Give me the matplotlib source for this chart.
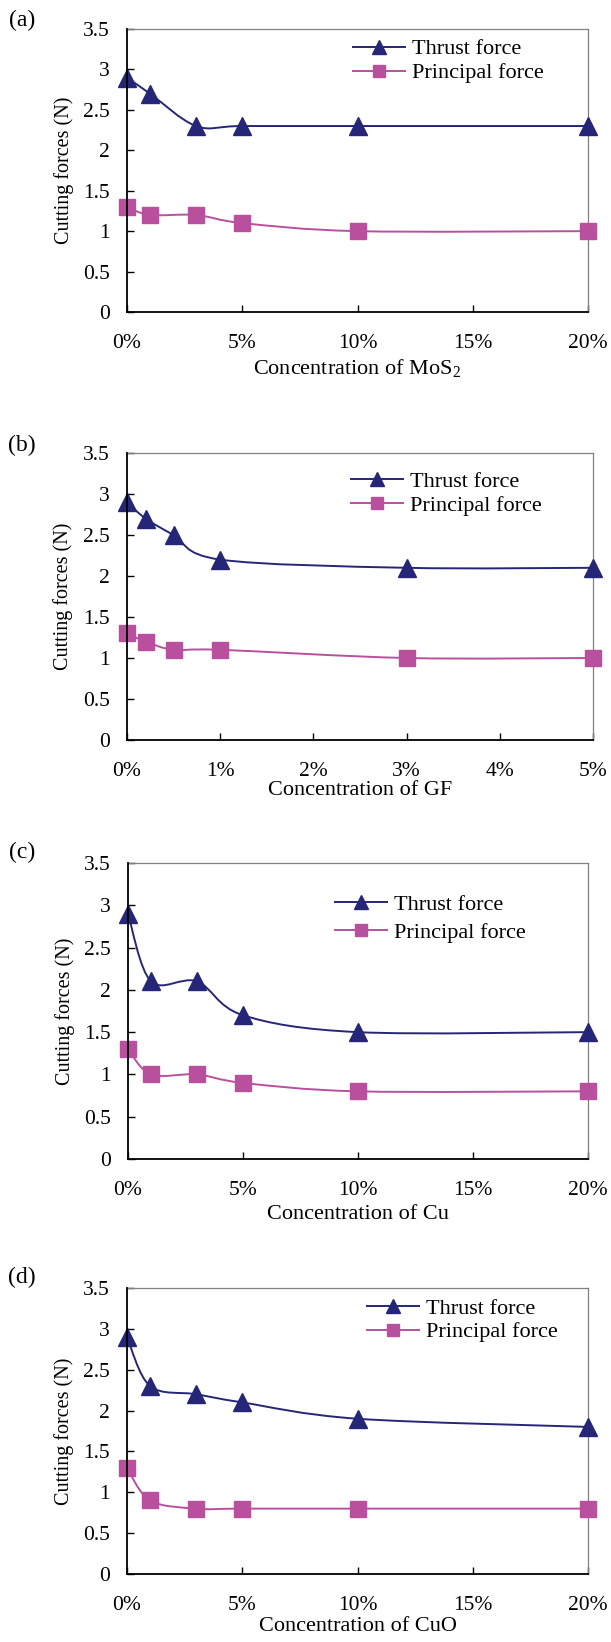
import numpy as np
import matplotlib
matplotlib.use('Agg')
import matplotlib.pyplot as plt
from matplotlib.path import Path
from matplotlib.patches import PathPatch
from matplotlib.lines import Line2D

plt.rcParams['font.family'] = 'Liberation Serif'
plt.rcParams['mathtext.fontset'] = 'custom'
plt.rcParams['mathtext.rm'] = 'Liberation Serif'
plt.rcParams['mathtext.it'] = 'Liberation Serif:italic'

# ---- data ----
conc_mos2 = [0, 1, 3, 5, 10, 20]
thrust_mos2 = [2.9, 2.7, 2.3, 2.3, 2.3, 2.3]
principal_mos2 = [1.3, 1.2, 1.2, 1.1, 1.0, 1.0]

conc_gf = [0, 0.2, 0.5, 1, 3, 5]
thrust_gf = [2.9, 2.7, 2.5, 2.2, 2.1, 2.1]
principal_gf = [1.3, 1.2, 1.1, 1.1, 1.0, 1.0]

conc_cu = [0, 1, 3, 5, 10, 20]
thrust_cu = [2.9, 2.1, 2.1, 1.7, 1.5, 1.5]
principal_cu = [1.3, 1.0, 1.0, 0.9, 0.8, 0.8]

conc_cuo = [0, 1, 3, 5, 10, 20]
thrust_cuo = [2.9, 2.3, 2.2, 2.1, 1.9, 1.8]
principal_cuo = [1.3, 0.9, 0.8, 0.8, 0.8, 0.8]

xticks_20 = [0, 5, 10, 15, 20]
xticks_5 = [0, 1, 2, 3, 4, 5]
yticks = [0, 0.5, 1, 1.5, 2, 2.5, 3, 3.5]

series_names = ['Thrust force', 'Principal force']
thrust_color = '#262678'
principal_color = '#B8509E'

W, H = 611, 1642


def smooth_path(x, y):
    # excel-like smoothed line: catmull-rom as cubic bezier
    pts = np.column_stack([x, y]).astype(float)
    n = len(pts)
    verts = [pts[0]]
    codes = [Path.MOVETO]
    for i in range(n - 1):
        p0 = pts[max(i - 1, 0)]
        p1 = pts[i]
        p2 = pts[i + 1]
        p3 = pts[min(i + 2, n - 1)]
        verts += [p1 + (p2 - p0) / 6, p2 - (p3 - p1) / 6, p2]
        codes += [Path.CURVE4] * 3
    return Path(verts, codes)


def px_axes(l, r, t, b):
    return [l / W, 1 - b / H, (r - l) / W, (b - t) / H]


panels = [
    dict(tag='(a)', tag_y=20, box=(127, 588, 29, 312), x=conc_mos2, t=thrust_mos2,
         p=principal_mos2, xticks=xticks_20, xmax=20, xlabel='Concentration of MoS$_2$',
         xl_y=-0.16, leg=(0.49, 0.965), lsp=0.15),
    dict(tag='(b)', tag_y=445, box=(127, 593, 453, 740), x=conc_gf, t=thrust_gf,
         p=principal_gf, xticks=xticks_5, xmax=5, xlabel='Concentration of GF',
         xl_y=-0.142, leg=(0.481, 0.935), lsp=0.15),
    dict(tag='(c)', tag_y=852, box=(128, 588, 863, 1159), x=conc_cu, t=thrust_cu,
         p=principal_cu, xticks=xticks_20, xmax=20, xlabel='Concentration of Cu',
         xl_y=-0.155, leg=(0.45, 0.895), lsp=0.33),
    dict(tag='(d)', tag_y=1277, box=(127, 588, 1288, 1574), x=conc_cuo, t=thrust_cuo,
         p=principal_cuo, xticks=xticks_20, xmax=20, xlabel='Concentration of CuO',
         xl_y=-0.152, leg=(0.52, 0.965), lsp=0.15),
]

fig = plt.figure(figsize=(W / 100, H / 100), dpi=100)

for pn in panels:
    ax = fig.add_axes(px_axes(*pn['box']))
    ax.set_xlim(0, pn['xmax'])
    ax.set_ylim(0, 3.5)

    for ys, col, mk, ms in [(pn['t'], thrust_color, '^', 13.5),
                            (pn['p'], principal_color, 's', 12)]:
        ax.add_patch(PathPatch(smooth_path(pn['x'], ys), facecolor='none',
                               edgecolor=col, lw=1.4, zorder=2, clip_on=False))
        ax.plot(pn['x'], ys, ls='none', marker=mk, ms=ms, color=col,
                zorder=3, clip_on=False)

    ax.set_xticks(pn['xticks'])
    ax.set_xticklabels([f'{v}%' for v in pn['xticks']])
    ax.set_yticks(yticks)
    ax.set_yticklabels([f'{v:g}' for v in yticks])
    ax.tick_params(direction='in', length=5, width=1.0, labelsize=15.5, color='black')
    ax.tick_params(axis='x', pad=15.5)
    ax.tick_params(axis='y', pad=12.5)

    for s in ['left', 'bottom']:
        ax.spines[s].set_linewidth(1.3)
        ax.spines[s].set_color('black')
    for s in ['top', 'right']:
        ax.spines[s].set_linewidth(0.9)
        ax.spines[s].set_color('#808080')
    ax.spines['left'].set_zorder(4)

    ax.set_ylabel('Cutting forces (N)', fontsize=14.5)
    ax.yaxis.set_label_coords(-0.115, 0.5)
    ax.set_xlabel(pn['xlabel'], fontsize=16)
    ax.xaxis.set_label_coords(0.5, pn['xl_y'])

    handles = [Line2D([], [], color=thrust_color, marker='^', ms=10, lw=1.4),
               Line2D([], [], color=principal_color, marker='s', ms=8.5, lw=1.4)]
    ax.legend(handles, series_names, loc='upper left', bbox_to_anchor=pn['leg'],
              frameon=False, fontsize=16, borderpad=0, borderaxespad=0,
              handlelength=2.35, handletextpad=0.3, labelspacing=pn['lsp'])

    fig.text(22 / W, 1 - pn['tag_y'] / H, pn['tag'], fontsize=17,
             ha='center', va='center')

fig.savefig('out.png', dpi=100)
